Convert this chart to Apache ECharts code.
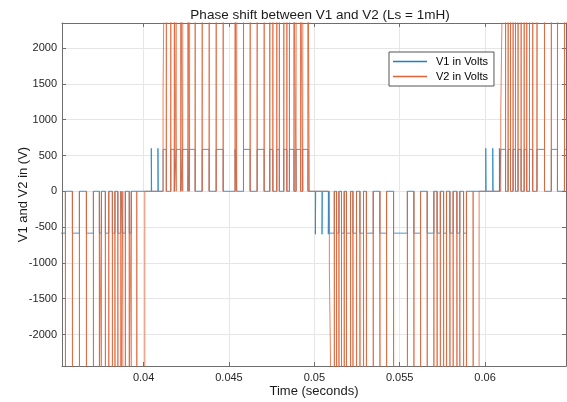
<!DOCTYPE html>
<html>
<head>
<meta charset="utf-8">
<script src="https://cdn.jsdelivr.net/npm/echarts@6/dist/echarts.min.js"></script>
<style>
  html, body { margin: 0; padding: 0; background: #fff; }
  #chart { width: 567px; height: 402px; }
</style>
</head>
<body>
<div id="chart"></div>
<script>
// View limits and tick labels
const xRange = [0.03522, 0.06474]
const yRange = [-2440, 2350]
const xTicks = [0.04, 0.045, 0.05, 0.055, 0.06]
const yTicks = [-2000, -1500, -1000, -500, 0, 500, 1000, 1500, 2000]

// V2: instants (s) of the short notches back to 0 V, one list per half cycle
const v2NotchA = [0.03542, 0.03583, 0.03624, 0.03665, 0.03706, 0.03741, 0.03753, 0.03776, 0.03796, 0.03817,
  0.03832, 0.03849, 0.03867, 0.03878, 0.03893, 0.03916, 0.03928, 0.0396]
const v2NotchB = [0.04133, 0.04159, 0.0418, 0.04191, 0.04218, 0.04229, 0.0426, 0.04269, 0.04302, 0.04343,
  0.04384, 0.04425, 0.04466, 0.04536, 0.04545, 0.04585, 0.04624, 0.04665, 0.04706, 0.04739,
  0.04757, 0.0478, 0.04795, 0.04821, 0.04839, 0.04854, 0.04881, 0.04893, 0.0492, 0.04932, 0.04963]
const v2NotchC = [0.05117, 0.0513, 0.05144, 0.05159, 0.05175, 0.05188, 0.05212, 0.05226, 0.05247, 0.05267,
  0.05288, 0.05305, 0.05345, 0.05384, 0.05423, 0.05464, 0.05545, 0.05583, 0.05622, 0.05661,
  0.057, 0.05719, 0.05738, 0.05757, 0.05774, 0.05794, 0.05813, 0.05835, 0.05852, 0.05874, 0.05891, 0.0593]
const v2NotchD = [0.0612, 0.06135, 0.06149, 0.06164, 0.06178, 0.06193, 0.06211, 0.06229, 0.06244, 0.0626,
  0.06279, 0.06304, 0.06348, 0.06388, 0.06424, 0.06465]
// V2: rail -> 0 at end of a half cycle, then 0 -> intermediate step -> rail
const v2ReturnTimes = [0.04007, 0.04971, 0.05965]
const v2RiseTimes = [0.04114, 0.05088, 0.06092]
const v2RailTimes = [0.0412, 0.05098, 0.06102]
const v2StepLevels = [1390, -1100, 1100]
const v2Rail = 3000   // off the visible range

// V1: plateau, spikes before each half cycle, plateau end times
const v1Plateau = 585
const v1Spike = 600
const v1SpikesB = [0.04045, 0.04084]
const v1SpikesC = [0.05006, 0.05045, 0.05082]
const v1SpikesD = [0.06004, 0.06045, 0.06084]
const v1EndTimes = [0.0393, 0.04971, 0.0593]

const halfSign = [-1, 1, -1, 1]
const notches = [v2NotchA, v2NotchB, v2NotchC, v2NotchD]
const spikes = [[], v1SpikesB, v1SpikesC, v1SpikesD]
const NOTCH_W = 0.000006
const SPIKE_W = 0.00002

const v1Data = []
const v2Data = []
halfSign.forEach((s, k) => {
  const rail = s * v2Rail
  const high = s * v1Plateau
  let start
  if (k === 0) {
    start = xRange[0] - 0.001
    v2Data.push([start, rail])
    v1Data.push([start, high])
  } else {
    spikes[k].forEach(t => v1Data.push([t, 0], [t, s * v1Spike], [t + SPIKE_W, s * v1Spike], [t + SPIKE_W, 0]))
    start = v2RiseTimes[k - 1]
    const step = v2StepLevels[k - 1]
    v2Data.push([start, 0], [start, step], [v2RailTimes[k - 1], step], [v2RailTimes[k - 1], rail])
    v1Data.push([start, 0], [start, high])
  }
  let lvl = high
  notches[k].forEach(t => {
    v2Data.push([t, rail], [t, 0], [t + NOTCH_W, 0], [t + NOTCH_W, rail])
    if (k === 3 || t < v1EndTimes[k]) {
      v1Data.push([t, lvl])
      lvl = lvl === 0 ? high : 0
      v1Data.push([t, lvl])
    }
  })
  if (k < 3) {
    v1Data.push([v1EndTimes[k], lvl], [v1EndTimes[k], 0])
    v2Data.push([v2ReturnTimes[k], rail], [v2ReturnTimes[k], 0])
  } else {
    v1Data.push([xRange[1] + 0.001, lvl])
    v2Data.push([xRange[1] + 0.001, rail])
  }
})

const FONT = 'Liberation Sans, Arial, sans-serif'
const axisGray = '#6e6e6e'
const isTick = (list, v) => list.some(x => Math.abs(x - v) < 1e-9 * Math.max(1, Math.abs(x)))

const chart = echarts.init(document.getElementById('chart'), null, { renderer: 'canvas' })

const baseX = {
  type: 'value', min: xRange[0], max: xRange[1],
  minInterval: 0.005, maxInterval: 0.005,
  axisLine: { show: true, onZero: false, lineStyle: { color: axisGray, width: 1 } },
  axisTick: { show: true, inside: true, length: 4, lineStyle: { color: axisGray } },
}
const baseY = {
  type: 'value', min: yRange[0], max: yRange[1],
  minInterval: 500, maxInterval: 500,
  axisLine: { show: true, onZero: false, lineStyle: { color: axisGray, width: 1 } },
  axisTick: { show: true, inside: true, length: 4, lineStyle: { color: axisGray } },
}

chart.setOption({
  animation: false,
  title: {
    text: 'Phase shift between V1 and V2 (Ls = 1mH)',
    left: 315, top: 3, textAlign: 'center',
    textStyle: { fontSize: 13.5, fontWeight: 'normal', color: '#1a1a1a', fontFamily: FONT },
  },
  legend: {
    orient: 'vertical', left: 389, top: 52,
    icon: 'rect', itemWidth: 34, itemHeight: 1.4, itemGap: 4,
    padding: [4, 6, 4, 4],
    borderColor: '#555', borderWidth: 1, backgroundColor: '#fff',
    textStyle: { fontSize: 11, color: '#000', fontFamily: FONT, padding: [0, 0, 0, 4] },
    data: [
      { name: 'V1 in Volts', itemStyle: { color: '#1f7fc4', opacity: 1 } },
      { name: 'V2 in Volts', itemStyle: { color: '#E0643A', opacity: 1 } },
    ],
  },
  grid: { left: 62, right: 1, top: 23, bottom: 36, outerBoundsMode: 'none' },
  xAxis: [
    Object.assign({}, baseX, {
      position: 'bottom',
      name: 'Time (seconds)', nameLocation: 'middle', nameGap: 19, nameMoveOverlap: false,
      nameTextStyle: { fontSize: 13, color: '#1a1a1a', fontFamily: FONT },
      splitLine: { show: true, lineStyle: { color: '#e6e6e6', width: 1 } },
      axisLabel: {
        margin: 6, fontSize: 11, color: '#262626', fontFamily: FONT,
        formatter: v => isTick(xTicks, v) ? String(+v.toFixed(4)) : '',
      },
    }),
    Object.assign({}, baseX, {
      position: 'top', splitLine: { show: false }, axisLabel: { show: false },
    }),
  ],
  yAxis: [
    Object.assign({}, baseY, {
      position: 'left',
      name: 'V1 and V2 in (V)', nameLocation: 'middle', nameGap: 32, nameMoveOverlap: false,
      nameTextStyle: { fontSize: 13, color: '#1a1a1a', fontFamily: FONT },
      splitLine: { show: true, lineStyle: { color: '#e6e6e6', width: 1 } },
      axisLabel: {
        margin: 5, fontSize: 11, color: '#262626', fontFamily: FONT,
        formatter: v => isTick(yTicks, v) ? String(Math.round(v)) : '',
      },
    }),
    Object.assign({}, baseY, {
      position: 'right', splitLine: { show: false }, axisLabel: { show: false },
    }),
  ],
  series: [
    {
      name: 'V1 in Volts', type: 'line', data: v1Data, symbol: 'none',
      xAxisIndex: 0, yAxisIndex: 0, clip: true, z: 2,
      lineStyle: { width: 1, color: '#2a86c8', opacity: 0.85 }, itemStyle: { color: '#2a86c8' },
    },
    {
      name: 'V2 in Volts', type: 'line', data: v2Data, symbol: 'none',
      xAxisIndex: 0, yAxisIndex: 0, clip: true, z: 3,
      lineStyle: { width: 1, color: '#E0643A', opacity: 0.8 }, itemStyle: { color: '#E0643A' },
    },
  ],
})
</script>
</body>
</html>
